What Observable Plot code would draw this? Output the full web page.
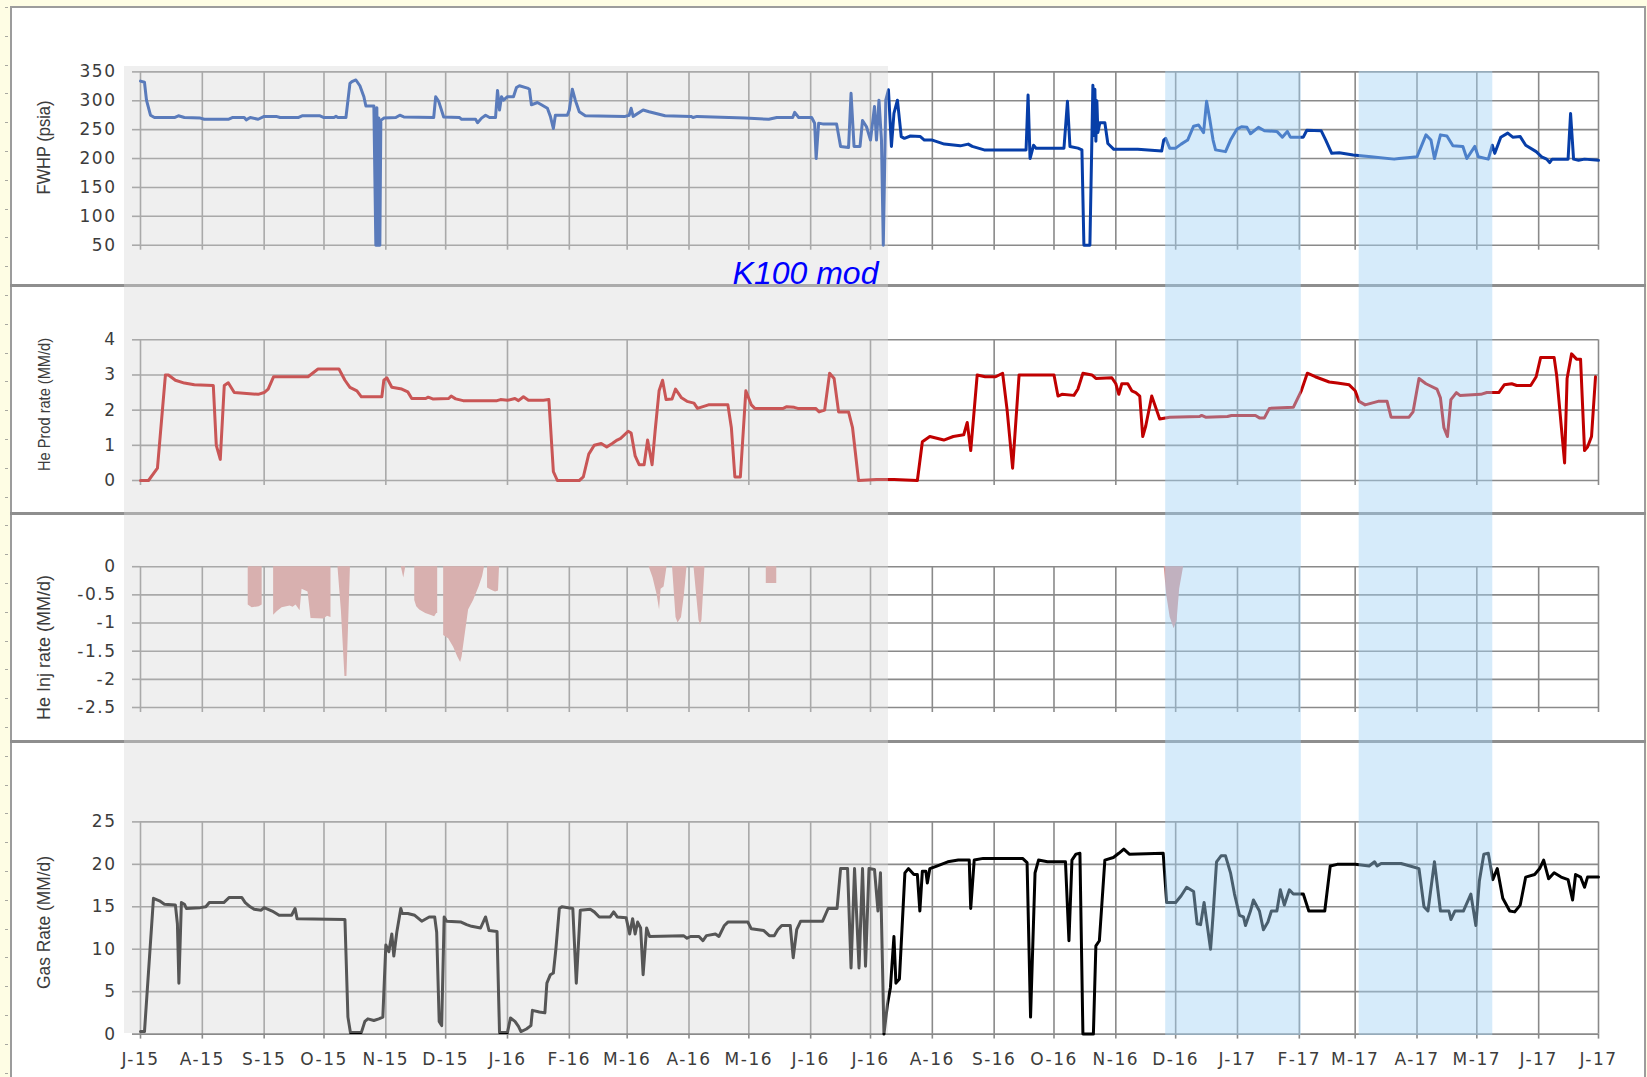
<!DOCTYPE html>
<html>
<head>
<meta charset="utf-8">
<script src="https://cdn.jsdelivr.net/npm/d3@7"></script>
<script src="https://cdn.jsdelivr.net/npm/@observablehq/plot@0.6"></script>
<style>
  html, body { margin: 0; padding: 0; }
  body { width: 1647px; height: 1077px; overflow: hidden; background: #fefde4; position: relative; }
  #ruler { position: absolute; left: 5px; top: 7px; width: 3px; height: 1070px;
           background: repeating-linear-gradient(to bottom, #a8a8a0 0px, #a8a8a0 1px, transparent 1px, transparent 28.8px); }
  #sheet { position: absolute; left: 10px; top: 6px; width: 1632px; height: 1069px; background: #ffffff;
           border: 2px solid #9c9c9c; border-bottom: none; }
  .sep { position: absolute; left: 10px; width: 1636px; height: 3px; background: #8e8e8e; }
  .layer { position: absolute; left: 0; }
  .layer svg { display: block; }
  #overlay { pointer-events: none; }
</style>
</head>
<body>
<div id="ruler"></div>
<div id="sheet"></div>
<div class="sep" style="top:284px"></div>
<div class="sep" style="top:512px"></div>
<div class="sep" style="top:740px"></div>
<div id="p1" class="layer" style="top:8px"></div>
<div id="p2" class="layer" style="top:285px"></div>
<div id="p3" class="layer" style="top:513px"></div>
<div id="p4" class="layer" style="top:741px"></div>
<div id="overlay" class="layer" style="top:66px"></div>
<script>
// ---- month axis ----
const monthTicks = ["2015-07-01","2015-08-01","2015-09-01","2015-10-01","2015-11-01","2015-12-01",
  "2016-01-01","2016-02-01","2016-03-01","2016-04-01","2016-05-01","2016-06-01","2016-07-01",
  "2016-08-01","2016-09-01","2016-10-01","2016-11-01","2016-12-01","2017-01-01","2017-02-01",
  "2017-03-01","2017-04-01","2017-05-01","2017-06-01","2017-07-01"];
const monthLabels = ["J-15","A-15","S-15","O-15","N-15","D-15","J-16","F-16","M-16","A-16","M-16","J-16",
  "J-16","A-16","S-16","O-16","N-16","D-16","J-17","F-17","M-17","A-17","M-17","J-17","J-17"];

// ---- y ticks per panel ----
const fwhpTicks = [50, 100, 150, 200, 250, 300, 350];
const heProdTicks = [0, 1, 2, 3, 4];
const heInjTicks = [0, -0.5, -1, -1.5, -2, -2.5];
const gasTicks = [0, 5, 10, 15, 20, 25];

// ---- highlighted periods ----
const k100Period = [{label: "K100 mod", start: "2015-06-23", end: "2016-07-10"}];
const blueBands = [{start: "2016-11-26", end: "2017-02-02"}, {start: "2017-03-03", end: "2017-05-09"}];

// ---- flowing wellhead pressure (psia) ----
const fwhp = [["2015-07-01",334],["2015-07-03",332],["2015-07-04",301],["2015-07-06",275],["2015-07-08",271],["2015-07-18",271],["2015-07-20",274],["2015-07-23",271],["2015-07-31",270],["2015-08-02",268],["2015-08-14",268],["2015-08-16",271],["2015-08-22",271],["2015-08-23",267],["2015-08-25",271],["2015-08-29",268],["2015-09-01",273],["2015-09-07",273],["2015-09-09",271],["2015-09-18",271],["2015-09-20",274],["2015-09-29",274],["2015-10-01",271],["2015-10-06",271],["2015-10-07",273],["2015-10-08",271],["2015-10-12",271],["2015-10-14",330],["2015-10-15",333],["2015-10-17",336],["2015-10-19",326],["2015-10-21",307],["2015-10-22",291],["2015-10-26",291],["2015-10-27",50],["2015-10-27T12:00",288],["2015-10-28",50],["2015-10-28T12:00",270],["2015-10-29",50],["2015-10-29T12:00",266],["2015-10-31",270],["2015-11-06",271],["2015-11-08",275],["2015-11-10",272],["2015-11-25",271],["2015-11-26",307],["2015-11-27T12:00",299],["2015-11-30",272],["2015-12-08",271],["2015-12-09",268],["2015-12-16",268],["2015-12-17",262],["2015-12-19",270],["2015-12-21",275],["2015-12-23",271],["2015-12-26",271],["2015-12-27",318],["2015-12-28",284],["2015-12-29",307],["2015-12-30",301],["2016-01-01",307],["2016-01-04",307],["2016-01-05T12:00",323],["2016-01-07",326],["2016-01-11",322],["2016-01-12",320],["2016-01-13",293],["2016-01-16",297],["2016-01-18",293],["2016-01-21",287],["2016-01-22T12:00",273],["2016-01-24",252],["2016-01-25",275],["2016-01-31",275],["2016-02-01",284],["2016-02-02T12:00",320],["2016-02-04",301],["2016-02-06",281],["2016-02-09",274],["2016-02-29",273],["2016-03-02",275],["2016-03-03",287],["2016-03-04",273],["2016-03-09",284],["2016-03-12",281],["2016-03-20",274],["2016-04-02",273],["2016-04-03",271],["2016-04-05",273],["2016-04-29",270],["2016-05-11",268],["2016-05-15",271],["2016-05-23",271],["2016-05-24",280],["2016-05-26",271],["2016-06-01T12:00",271],["2016-06-03",261],["2016-06-03T18:00",200],["2016-06-05",261],["2016-06-07",260],["2016-06-14",260],["2016-06-16",221],["2016-06-20",219],["2016-06-21T06:00",313],["2016-06-22T18:00",221],["2016-06-25T18:00",221],["2016-06-27",266],["2016-06-29",255],["2016-07-01",232],["2016-07-03",290],["2016-07-04",232],["2016-07-05T06:00",301],["2016-07-06T12:00",232],["2016-07-07T10:00",50],["2016-07-08T16:00",301],["2016-07-10",319],["2016-07-11T12:00",221],["2016-07-12T18:00",278],["2016-07-14T12:00",301],["2016-07-16T10:00",238],["2016-07-18",235],["2016-07-21",239],["2016-07-26",238],["2016-07-28",232],["2016-08-01",232],["2016-08-07",225],["2016-08-15",222],["2016-08-19",225],["2016-08-21",221],["2016-08-27",215],["2016-09-17",215],["2016-09-18",310],["2016-09-19",200],["2016-09-20T18:00",223],["2016-09-22",218],["2016-10-06",218],["2016-10-07T18:00",299],["2016-10-09",221],["2016-10-13",218],["2016-10-15",215],["2016-10-16",50],["2016-10-19",50],["2016-10-20T12:00",327],["2016-10-21",240],["2016-10-21T12:00",320],["2016-10-22",230],["2016-10-22T12:00",300],["2016-10-23",245],["2016-10-24",262],["2016-10-26T12:00",262],["2016-10-28",226],["2016-10-31",216],["2016-11-12",216],["2016-11-24",213],["2016-11-25",232],["2016-11-26",235],["2016-11-28",218],["2016-12-01",218],["2016-12-03T18:00",225],["2016-12-07",232],["2016-12-10",256],["2016-12-12T12:00",258],["2016-12-15",245],["2016-12-16T12:00",299],["2016-12-18",270],["2016-12-19T18:00",232],["2016-12-21",215],["2016-12-26",212],["2016-12-28T12:00",232],["2016-12-31T18:00",251],["2017-01-03",255],["2017-01-05T18:00",254],["2017-01-07T12:00",243],["2017-01-11T12:00",254],["2017-01-14T12:00",248],["2017-01-20T18:00",247],["2017-01-23T12:00",237],["2017-01-26",247],["2017-01-27T12:00",237],["2017-02-03",237],["2017-02-04T18:00",249],["2017-02-12",248],["2017-02-14T06:00",232],["2017-02-17T06:00",209],["2017-02-21",210],["2017-02-28",206],["2017-03-09",203],["2017-03-20T12:00",199],["2017-03-23",200],["2017-03-28T12:00",202],["2017-04-01",203],["2017-04-05T12:00",241],["2017-04-08",232],["2017-04-09T18:00",200],["2017-04-12T18:00",241],["2017-04-16",239],["2017-04-19",222],["2017-04-24",221],["2017-04-26",200],["2017-04-30",221],["2017-05-01T18:00",203],["2017-05-06T18:00",199],["2017-05-08T18:00",223],["2017-05-10",209],["2017-05-13",237],["2017-05-16T12:00",244],["2017-05-19",237],["2017-05-22T18:00",238],["2017-05-25T12:00",223],["2017-05-30T18:00",212],["2017-06-02T12:00",203],["2017-06-05",199],["2017-06-06T12:00",193],["2017-06-07T18:00",199],["2017-06-15T18:00",199],["2017-06-17",278],["2017-06-18T12:00",199],["2017-06-21",197],["2017-06-24",199],["2017-07-01",197]];

// ---- helium production rate (MM/d) ----
const heProd = [["2015-07-01",0],["2015-07-05",0],["2015-07-09T12:00",0.35],["2015-07-13T12:00",3.0],["2015-07-15",3.0],["2015-07-18T12:00",2.85],["2015-07-23",2.77],["2015-07-28",2.72],["2015-08-06T12:00",2.7],["2015-08-08",1.0],["2015-08-10",0.6],["2015-08-12",2.7],["2015-08-14",2.78],["2015-08-17",2.5],["2015-08-29",2.45],["2015-09-01",2.5],["2015-09-03",2.6],["2015-09-05T18:00",2.95],["2015-09-23",2.95],["2015-09-28",3.17],["2015-10-08T12:00",3.17],["2015-10-11T12:00",2.85],["2015-10-14",2.65],["2015-10-17T12:00",2.55],["2015-10-19T18:00",2.38],["2015-10-30",2.38],["2015-10-31",2.85],["2015-11-01T12:00",2.92],["2015-11-04",2.65],["2015-11-09",2.6],["2015-11-12",2.52],["2015-11-14",2.33],["2015-11-21",2.33],["2015-11-22T06:00",2.37],["2015-11-24T12:00",2.32],["2015-12-02T12:00",2.33],["2015-12-03T18:00",2.4],["2015-12-06",2.32],["2015-12-09T18:00",2.27],["2015-12-26T18:00",2.27],["2015-12-28T12:00",2.3],["2016-01-01",2.28],["2016-01-04T18:00",2.33],["2016-01-06T12:00",2.27],["2016-01-09",2.38],["2016-01-11T12:00",2.28],["2016-01-19",2.28],["2016-01-21T18:00",2.3],["2016-01-24",0.25],["2016-01-26",0],["2016-02-06",0],["2016-02-08",0.1],["2016-02-10T18:00",0.75],["2016-02-13T12:00",1.0],["2016-02-17",1.05],["2016-02-19T18:00",0.95],["2016-02-22T12:00",1.05],["2016-02-25",1.15],["2016-02-26T18:00",1.2],["2016-03-01T12:00",1.4],["2016-03-03",1.35],["2016-03-05",0.7],["2016-03-07",0.45],["2016-03-09T12:00",0.45],["2016-03-11T06:00",1.15],["2016-03-13T12:00",0.45],["2016-03-15",1.4],["2016-03-17",2.55],["2016-03-18T18:00",2.85],["2016-03-20T12:00",2.3],["2016-03-23T12:00",2.32],["2016-03-25T06:00",2.6],["2016-03-28T06:00",2.35],["2016-03-31",2.25],["2016-04-03T12:00",2.2],["2016-04-05T06:00",2.05],["2016-04-10T18:00",2.15],["2016-04-20T12:00",2.15],["2016-04-22T06:00",1.5],["2016-04-24",0.1],["2016-04-26T18:00",0.1],["2016-04-29T12:00",2.55],["2016-05-02T06:00",2.15],["2016-05-04",2.05],["2016-05-18T06:00",2.05],["2016-05-20",2.1],["2016-05-23T18:00",2.08],["2016-05-25T12:00",2.05],["2016-06-03T12:00",2.05],["2016-06-05T06:00",1.95],["2016-06-08",2.0],["2016-06-10T12:00",3.05],["2016-06-12T18:00",2.9],["2016-06-15",1.95],["2016-06-20",1.95],["2016-06-22",1.5],["2016-06-25",0],["2016-07-04",0.03],["2016-07-12T18:00",0.03],["2016-07-24T12:00",0],["2016-07-27",1.1],["2016-07-30T18:00",1.25],["2016-08-06T18:00",1.15],["2016-08-11T12:00",1.25],["2016-08-16T18:00",1.3],["2016-08-18T12:00",1.65],["2016-08-20T06:00",0.85],["2016-08-23T12:00",3.0],["2016-08-27T12:00",2.95],["2016-09-01T18:00",2.95],["2016-09-05T06:00",3.05],["2016-09-07T12:00",2.0],["2016-09-10T06:00",0.35],["2016-09-13T12:00",3.0],["2016-10-01",3.0],["2016-10-03",2.4],["2016-10-05",2.45],["2016-10-11",2.42],["2016-10-13",2.6],["2016-10-15T12:00",3.05],["2016-10-20",3.0],["2016-10-22",2.9],["2016-10-30",2.92],["2016-11-01",2.75],["2016-11-02T12:00",2.45],["2016-11-04",2.75],["2016-11-07",2.75],["2016-11-09",2.55],["2016-11-11",2.5],["2016-11-13",2.4],["2016-11-14T12:00",1.25],["2016-11-16",1.55],["2016-11-19",2.4],["2016-11-23",1.75],["2016-11-28",1.8],["2016-12-13",1.82],["2016-12-14",1.85],["2016-12-16",1.8],["2016-12-27",1.82],["2016-12-29",1.85],["2017-01-10",1.85],["2017-01-12",1.78],["2017-01-14T12:00",1.78],["2017-01-17",2.05],["2017-01-29",2.08],["2017-02-02",2.55],["2017-02-05",3.05],["2017-02-09",2.95],["2017-02-16",2.8],["2017-02-20",2.77],["2017-02-26",2.72],["2017-03-01",2.55],["2017-03-03",2.25],["2017-03-06",2.15],["2017-03-12T12:00",2.25],["2017-03-17",2.25],["2017-03-19",1.8],["2017-03-28",1.8],["2017-03-30",1.95],["2017-04-02",2.9],["2017-04-05T12:00",2.75],["2017-04-11",2.6],["2017-04-12T18:00",2.35],["2017-04-14T12:00",1.5],["2017-04-16T06:00",1.25],["2017-04-18",2.3],["2017-04-20T18:00",2.5],["2017-04-22T12:00",2.42],["2017-05-03",2.45],["2017-05-06",2.5],["2017-05-12",2.5],["2017-05-14T18:00",2.72],["2017-05-18T12:00",2.75],["2017-05-21",2.7],["2017-05-28",2.7],["2017-05-30T18:00",2.95],["2017-06-02",3.5],["2017-06-08T18:00",3.5],["2017-06-10",3.0],["2017-06-14",0.5],["2017-06-15T06:00",2.9],["2017-06-17T12:00",3.6],["2017-06-20",3.45],["2017-06-22",3.45],["2017-06-24",0.85],["2017-06-25T12:00",0.95],["2017-06-27T12:00",1.25],["2017-06-29T12:00",2.95]];

// ---- helium injection rate (MM/d), negative = injected ----
const heInj = [["2015-07-01",0],
  ["2015-08-24",0],["2015-08-24",-0.68],["2015-08-26",-0.73],["2015-08-29T12:00",-0.71],["2015-08-31",-0.68],["2015-08-31",0],
  ["2015-09-05T18:00",0],["2015-09-05T18:00",-0.86],["2015-09-07T12:00",-0.8],["2015-09-10",-0.73],["2015-09-14",-0.7],["2015-09-15T12:00",-0.72],["2015-09-17",-0.68],["2015-09-19",-0.78],["2015-09-20",-0.4],["2015-09-23",-0.45],["2015-09-24T12:00",-0.92],["2015-10-01",-0.93],["2015-10-02T18:00",-0.88],["2015-10-04T12:00",-0.9],["2015-10-04T12:00",0],
  ["2015-10-08",0],["2015-10-09T18:00",-0.8],["2015-10-11T12:00",-1.95],["2015-10-12T12:00",-1.95],["2015-10-14",-0.3],["2015-10-14T06:00",0],
  ["2015-11-08T18:00",0],["2015-11-10",-0.2],["2015-11-11",0],
  ["2015-11-15T12:00",0],["2015-11-15T12:00",-0.6],["2015-11-16T12:00",-0.71],["2015-11-18",-0.77],["2015-11-21",-0.83],["2015-11-23T12:00",-0.86],["2015-11-25T12:00",-0.89],["2015-11-26T12:00",-0.83],["2015-11-27",-0.83],["2015-11-27",0],
  ["2015-11-30",0],["2015-11-30",-1.22],["2015-12-02T12:00",-1.28],["2015-12-05",-1.43],["2015-12-07",-1.6],["2015-12-08T12:00",-1.7],["2015-12-09T06:00",-1.6],["2015-12-10T12:00",-1.28],["2015-12-12T12:00",-0.77],["2015-12-15",-0.6],["2015-12-17T18:00",-0.36],["2015-12-19T12:00",-0.18],["2015-12-20T12:00",0],
  ["2015-12-22",0],["2015-12-22",-0.38],["2015-12-24",-0.42],["2015-12-26",-0.45],["2015-12-27T12:00",-0.43],["2015-12-28",0],
  ["2016-03-12",0],["2016-03-14",-0.2],["2016-03-16",-0.5],["2016-03-17T06:00",-0.77],["2016-03-18",-0.4],["2016-03-19T12:00",-0.36],["2016-03-21",0],
  ["2016-03-23T18:00",0],["2016-03-25T12:00",-0.9],["2016-03-26T12:00",-1.0],["2016-03-28T06:00",-0.9],["2016-03-29T18:00",-0.48],["2016-03-31",0],
  ["2016-04-03T12:00",0],["2016-04-06",-0.95],["2016-04-06T18:00",-1.04],["2016-04-07T12:00",-0.95],["2016-04-09",0],
  ["2016-05-09T18:00",0],["2016-05-09T18:00",-0.3],["2016-05-15",-0.3],["2016-05-15",0],
  ["2016-11-25T06:00",0],["2016-11-26T12:00",-0.5],["2016-11-28T06:00",-0.9],["2016-11-30T06:00",-1.1],["2016-12-01T18:00",-0.95],["2016-12-03",-0.4],["2016-12-05",0],
  ["2017-07-01",0]];

// ---- gas rate (MM/d) ----
const gasRate = [["2015-07-01",0.3],["2015-07-03",0.3],["2015-07-07T12:00",16.0],["2015-07-10T12:00",15.7],["2015-07-13",15.3],["2015-07-18T12:00",15.2],["2015-07-19T12:00",13.0],["2015-07-20T06:00",6.0],["2015-07-21T12:00",15.5],["2015-07-23",15.3],["2015-07-24",14.8],["2015-07-31",14.9],["2015-08-02T18:00",15.0],["2015-08-04T12:00",15.5],["2015-08-11T18:00",15.5],["2015-08-14T12:00",16.1],["2015-08-20T18:00",16.1],["2015-08-22T12:00",15.5],["2015-08-25",15.0],["2015-08-27",14.7],["2015-08-30T12:00",14.6],["2015-09-01",14.9],["2015-09-05",14.5],["2015-09-08T12:00",14.0],["2015-09-14T18:00",14.0],["2015-09-16T12:00",14.8],["2015-09-17T12:00",13.6],["2015-10-11T12:00",13.5],["2015-10-13",2.0],["2015-10-14T06:00",0.2],["2015-10-19T18:00",0.2],["2015-10-21T12:00",1.5],["2015-10-23",1.8],["2015-10-26",1.6],["2015-10-28T12:00",1.8],["2015-10-30T12:00",2.0],["2015-11-01",10.5],["2015-11-02T12:00",9.7],["2015-11-04",11.8],["2015-11-05",9.2],["2015-11-06T12:00",12.0],["2015-11-08T12:00",14.8],["2015-11-09T06:00",14.2],["2015-11-12",14.2],["2015-11-15T12:00",14.0],["2015-11-19",13.3],["2015-11-22T18:00",13.8],["2015-11-25T12:00",13.8],["2015-11-26T12:00",12.0],["2015-11-27T18:00",1.5],["2015-11-29",1.0],["2015-11-30T06:00",13.8],["2015-12-01T12:00",13.3],["2015-12-08T18:00",13.2],["2015-12-11T12:00",12.9],["2015-12-14",12.7],["2015-12-18T12:00",12.5],["2015-12-21",13.8],["2015-12-22T18:00",12.2],["2015-12-26T18:00",12.1],["2015-12-28",0.2],["2016-01-01",0.2],["2016-01-02T12:00",1.9],["2016-01-04T18:00",1.5],["2016-01-06T12:00",0.9],["2016-01-07T18:00",0.3],["2016-01-10T12:00",0.6],["2016-01-12T18:00",1.0],["2016-01-13T12:00",2.8],["2016-01-17",2.6],["2016-01-19T18:00",2.5],["2016-01-20T18:00",6.0],["2016-01-22T12:00",7.0],["2016-01-24",7.2],["2016-01-25T06:00",10.0],["2016-01-27",14.8],["2016-01-28T06:00",15.0],["2016-02-02T18:00",14.8],["2016-02-04T12:00",6.0],["2016-02-06T12:00",14.6],["2016-02-11T12:00",14.7],["2016-02-13T12:00",14.4],["2016-02-16",13.8],["2016-02-21T12:00",13.8],["2016-02-23T06:00",14.4],["2016-02-25",13.8],["2016-02-29T12:00",13.7],["2016-03-02T06:00",11.8],["2016-03-03T18:00",13.6],["2016-03-05",11.8],["2016-03-06T06:00",13.2],["2016-03-07T18:00",12.5],["2016-03-09",7.0],["2016-03-10T18:00",12.5],["2016-03-12T06:00",11.5],["2016-03-29T06:00",11.6],["2016-03-31",11.3],["2016-04-01T18:00",11.5],["2016-04-06",11.5],["2016-04-08",11.0],["2016-04-09T18:00",11.6],["2016-04-14T06:00",11.8],["2016-04-16",11.5],["2016-04-18T18:00",12.8],["2016-04-20T12:00",13.2],["2016-04-30T12:00",13.2],["2016-05-02T06:00",12.4],["2016-05-08T12:00",12.2],["2016-05-11T06:00",11.6],["2016-05-13T18:00",11.6],["2016-05-15T12:00",12.3],["2016-05-17T12:00",12.8],["2016-05-21T18:00",12.8],["2016-05-23T06:00",9.0],["2016-05-25",12.3],["2016-05-27",13.3],["2016-06-07",13.3],["2016-06-09T18:00",14.8],["2016-06-14T06:00",14.8],["2016-06-16",19.5],["2016-06-19T12:00",19.5],["2016-06-21T06:00",7.8],["2016-06-23",19.5],["2016-06-25T06:00",7.8],["2016-06-27",19.5],["2016-06-28T12:00",8.0],["2016-06-30T06:00",19.5],["2016-07-03",19.4],["2016-07-04T18:00",14.5],["2016-07-06",19.0],["2016-07-07T18:00",0],["2016-07-09T12:00",3.5],["2016-07-11",5.5],["2016-07-12T18:00",11.5],["2016-07-13T18:00",6.0],["2016-07-15T12:00",6.5],["2016-07-18T06:00",19.0],["2016-07-20",19.5],["2016-07-22T18:00",18.8],["2016-07-24T12:00",18.8],["2016-07-25T18:00",14.5],["2016-07-27",19.2],["2016-07-28T18:00",19.2],["2016-07-29T12:00",17.8],["2016-07-30T18:00",19.5],["2016-08-03T06:00",19.8],["2016-08-08T18:00",20.3],["2016-08-14",20.5],["2016-08-19T12:00",20.5],["2016-08-20T06:00",14.8],["2016-08-22",20.5],["2016-08-26T12:00",20.7],["2016-09-15T06:00",20.7],["2016-09-17T12:00",20.2],["2016-09-19T06:00",2.0],["2016-09-21T12:00",19.0],["2016-09-23T06:00",20.5],["2016-09-27T18:00",20.3],["2016-10-06T18:00",20.3],["2016-10-08T12:00",11.0],["2016-10-10",20.5],["2016-10-12",21.2],["2016-10-14",21.3],["2016-10-15T12:00",0],["2016-10-20T18:00",0],["2016-10-22",10.4],["2016-10-23T18:00",11.0],["2016-10-26T12:00",20.5],["2016-10-30T18:00",20.8],["2016-11-02T12:00",21.3],["2016-11-05",21.8],["2016-11-07T18:00",21.2],["2016-11-24T18:00",21.3],["2016-11-26T12:00",15.5],["2016-12-01",15.5],["2016-12-03T18:00",16.3],["2016-12-06T12:00",17.3],["2016-12-10",16.8],["2016-12-11T18:00",13.0],["2016-12-13T12:00",12.9],["2016-12-15T06:00",15.5],["2016-12-18T12:00",10.0],["2016-12-19T18:00",14.0],["2016-12-21T12:00",20.3],["2016-12-23T18:00",21.0],["2016-12-26",21.0],["2016-12-28T12:00",19.0],["2016-12-30T12:00",16.5],["2017-01-02",14.0],["2017-01-04",13.8],["2017-01-05",12.8],["2017-01-07T12:00",14.5],["2017-01-09",15.8],["2017-01-12",14.5],["2017-01-14",12.3],["2017-01-16T06:00",13.2],["2017-01-18",14.5],["2017-01-20T18:00",14.5],["2017-01-22T12:00",17.0],["2017-01-24T12:00",15.2],["2017-01-27",17.0],["2017-01-29",16.5],["2017-02-03",16.5],["2017-02-05T18:00",14.5],["2017-02-13T18:00",14.5],["2017-02-16T12:00",19.8],["2017-02-20",20.0],["2017-03-01",20.0],["2017-03-08",19.8],["2017-03-10T18:00",20.3],["2017-03-12",19.8],["2017-03-14",20.1],["2017-03-24",20.1],["2017-03-28T12:00",19.8],["2017-04-02",19.5],["2017-04-04T12:00",15.0],["2017-04-06T12:00",14.5],["2017-04-09T18:00",20.3],["2017-04-12T18:00",14.5],["2017-04-17",14.5],["2017-04-18",13.5],["2017-04-20",14.5],["2017-04-24T06:00",14.5],["2017-04-28",16.5],["2017-04-30T12:00",12.8],["2017-05-02T06:00",18.0],["2017-05-04T12:00",21.2],["2017-05-06T18:00",21.3],["2017-05-09",18.2],["2017-05-11T06:00",19.5],["2017-05-14",16.0],["2017-05-17T12:00",14.5],["2017-05-20",14.4],["2017-05-22T18:00",15.2],["2017-05-25T12:00",18.5],["2017-05-30",18.8],["2017-06-01T12:00",19.5],["2017-06-03T12:00",20.5],["2017-06-06",18.3],["2017-06-08T18:00",19.0],["2017-06-12T06:00",18.5],["2017-06-15T18:00",18.2],["2017-06-18",15.8],["2017-06-19T12:00",18.8],["2017-06-22",18.5],["2017-06-24",17.3],["2017-06-25T12:00",18.5],["2017-07-01",18.5]];

// ---- shared layout / style ----
const W = 1647, ML = 140, MR = 49;
const GRID = "#8a8a8a", INK = "#3c3c3c";
const TICK_FONT = "DejaVu Sans", TITLE_FONT = "Liberation Sans";
const toDate = (s) => new Date(s.length > 10 ? s + "Z" : s);
const rows = (list) => list.map(([d, v]) => ({date: toDate(d), value: v}));
const months = monthTicks.map(toDate);
const monthLabelOf = new Map(months.map((m, i) => [+m, monthLabels[i]]));
const everyOtherMonth = months.filter((d, i) => i % 2 === 0);
const xDomain = [months[0], months[months.length - 1]];

function panel(id, cfg) {
  const chart = Plot.plot({
    width: W, height: cfg.height,
    marginLeft: ML, marginRight: MR, marginTop: cfg.marginTop, marginBottom: cfg.marginBottom,
    style: {background: "transparent", overflow: "visible", fontFamily: TICK_FONT, fontSize: "17px", color: INK},
    x: {type: "utc", domain: xDomain},
    y: {domain: [cfg.yTicks[0], cfg.yTicks[cfg.yTicks.length - 1]]},
    marks: [
      Plot.ruleY(cfg.yTicks, {stroke: GRID, strokeWidth: 1.6}),
      Plot.ruleX(cfg.xGrid, {stroke: GRID, strokeWidth: 1.6}),
      Plot.axisY({ticks: cfg.yTicks, tickSize: 8, tickPadding: 16, tickFormat: (d) => String(d),
        stroke: GRID, strokeWidth: 1.6, fill: INK, fontSize: 17, fontFamily: TICK_FONT, label: null}),
      Plot.axisX({ticks: cfg.xGrid, tickSize: 5, tickPadding: 14,
        tickFormat: cfg.showMonths ? (d) => monthLabelOf.get(+d) : () => "",
        stroke: GRID, strokeWidth: 1.6, fill: INK, fontSize: 17, fontFamily: TICK_FONT, label: null}),
      ...cfg.marks,
      Plot.text([cfg.title], {frameAnchor: "left", textAnchor: "middle", lineAnchor: "middle",
        text: (d) => d, rotate: -90, dx: -96, dy: cfg.titleDy,
        fontSize: cfg.titleSize, fontFamily: TITLE_FONT, fill: INK})
    ]
  });
  chart.querySelectorAll('g[aria-label$="tick label"] text').forEach((t) => t.style.letterSpacing = "1.5px");
  chart.querySelectorAll("text").forEach((t) => {
    if (t.textContent === cfg.title) {
      t.setAttribute("textLength", cfg.titleLength);
      t.setAttribute("lengthAdjust", "spacingAndGlyphs");
    }
  });
  document.getElementById(id).append(chart);
}

panel("p1", {
  height: 277, marginTop: 63.4, marginBottom: 40.3, yTicks: fwhpTicks, xGrid: months,
  title: "FWHP (psia)", titleDy: -11, titleSize: 18, titleLength: 94,
  marks: [Plot.line(rows(fwhp), {x: "date", y: "value", stroke: "#073ea8", strokeWidth: 3})]
});
panel("p2", {
  height: 228, marginTop: 54.3, marginBottom: 33, yTicks: heProdTicks, xGrid: everyOtherMonth,
  title: "He Prod rate (MM/d)", titleDy: -5.7, titleSize: 16, titleLength: 133,
  marks: [Plot.line(rows(heProd), {x: "date", y: "value", stroke: "#c00000", strokeWidth: 3})]
});
panel("p3", {
  height: 228, marginTop: 53.2, marginBottom: 34, yTicks: heInjTicks.slice().reverse(), xGrid: months,
  title: "He Inj rate (MM/d)", titleDy: 10.4, titleSize: 18, titleLength: 145,
  marks: [Plot.areaY(rows(heInj), {x: "date", y1: 0, y2: "value", fill: "#d99694"})]
});
panel("p4", {
  height: 336, marginTop: 80.4, marginBottom: 43.4, yTicks: gasTicks, xGrid: months, showMonths: true,
  title: "Gas Rate (MM/d)", titleDy: -5.5, titleSize: 18, titleLength: 133,
  marks: [Plot.line(rows(gasRate), {x: "date", y: "value", stroke: "#000000", strokeWidth: 3})]
});

// ---- translucent period shading laid over all four panels ----
const periodRows = k100Period.map((p) => ({...p, x1: toDate(p.start), x2: toDate(p.end)}));
const bandRows = blueBands.map((p) => ({x1: toDate(p.start), x2: toDate(p.end)}));
const overlay = Plot.plot({
  width: W, height: 969, marginLeft: ML, marginRight: MR, marginTop: 0, marginBottom: 0,
  style: {background: "transparent", overflow: "visible"},
  x: {type: "utc", domain: xDomain, axis: null},
  marks: [
    Plot.rect(periodRows, {x1: "x1", x2: "x2", fill: "#d8d8d8", fillOpacity: 0.4, insetBottom: 2}),
    Plot.rect(bandRows, {x1: "x1", x2: "x2", fill: "rgb(164,211,244)", fillOpacity: 0.45, insetTop: 5}),
    Plot.text(periodRows, {x: "x2", text: "label", frameAnchor: "top", textAnchor: "end", lineAnchor: "middle",
      dx: -10, dy: 207, fontSize: 32, fontStyle: "italic", fontFamily: "Liberation Sans", fill: "#0000ff"})
  ]
});
document.getElementById("overlay").append(overlay);
</script>
</body>
</html>
